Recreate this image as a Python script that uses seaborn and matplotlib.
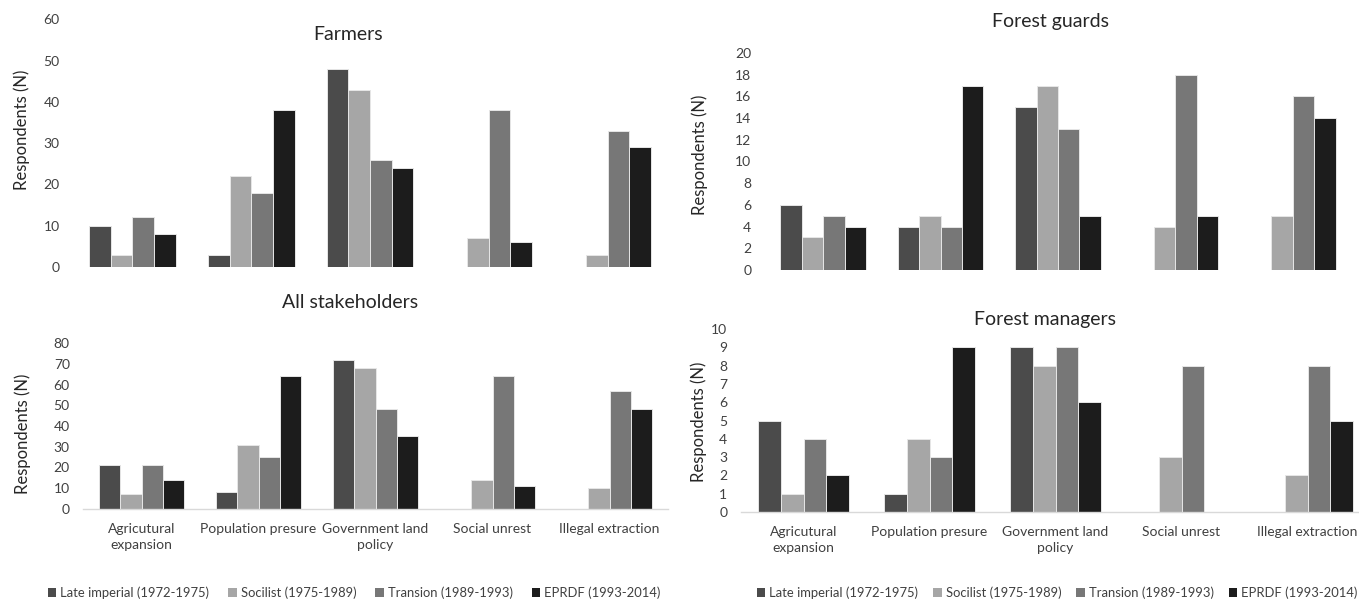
import pandas as pd
import seaborn as sns
import matplotlib.pyplot as plt
from matplotlib.patches import Patch

# categories and periods
causes = ['Agricutural\nexpansion', 'Population presure', 'Government land\npolicy',
          'Social unrest', 'Illegal extraction']
periods = ['Late imperial (1972-1975)', 'Socilist (1975-1989)',
           'Transion (1989-1993)', 'EPRDF (1993-2014)']
colors = ['#4b4b4b', '#a6a6a6', '#777777', '#1c1c1c']

# Farmers
farmers_late = [10, 3, 48, 0, 0]
farmers_soc = [3, 22, 43, 7, 3]
farmers_trans = [12, 18, 26, 38, 33]
farmers_eprdf = [8, 38, 24, 6, 29]

# Forest guards
guards_late = [6, 4, 15, 0, 0]
guards_soc = [3, 5, 17, 4, 5]
guards_trans = [5, 4, 13, 18, 16]
guards_eprdf = [4, 17, 5, 5, 14]

# All stakeholders
all_late = [21, 8, 72, 0, 0]
all_soc = [7, 31, 68, 14, 10]
all_trans = [21, 25, 48, 64, 57]
all_eprdf = [14, 64, 35, 11, 48]

# Forest managers
managers_late = [5, 1, 9, 0, 0]
managers_soc = [1, 4, 8, 3, 2]
managers_trans = [4, 3, 9, 8, 8]
managers_eprdf = [2, 9, 6, 0, 5]

sns.set_style('white')
plt.rcParams['font.family'] = ['Lato', 'DejaVu Sans']

W, H = 1359, 600
fig = plt.figure(figsize=(W / 100, H / 100), dpi=100)


def to_df(series):
    rows = []
    for period, vals in zip(periods, series):
        for cause, v in zip(causes, vals):
            rows.append({'cause': cause, 'period': period, 'n': v})
    return pd.DataFrame(rows)


def rect(x0, x1, ytop, ybot):
    return [x0 / W, (H - ybot) / H, (x1 - x0) / W, (ybot - ytop) / H]


def panel(box, series, ymax, ystep, title, title_xy, ylab_xy, show_x):
    ax = fig.add_axes(rect(*box))
    df = to_df(series)
    sns.barplot(data=df, x='cause', y='n', hue='period', order=causes,
                hue_order=periods, palette=colors, width=0.73,
                edgecolor='#e6e6e6', linewidth=0.7, legend=False, ax=ax)
    ax.set_xlim(-0.5, len(causes) - 0.5)
    ax.set_ylim(0, ymax)
    ax.set_yticks(range(0, ymax + 1, ystep))
    ax.set_xlabel('')
    ax.set_ylabel('')
    ax.tick_params(axis='y', length=0, pad=9.5, labelsize=10, labelcolor='#404040')
    ax.tick_params(axis='x', length=0, pad=10, labelsize=10, labelcolor='#404040')
    for s in ['top', 'right', 'left']:
        ax.spines[s].set_visible(False)
    if show_x:
        ax.spines['bottom'].set_color('#d9d9d9')
        ax.spines['bottom'].set_linewidth(1)
        for lab in ax.get_xticklabels():
            lab.set_linespacing(1.45)
    else:
        ax.spines['bottom'].set_visible(False)
        ax.set_xticklabels([])
    fig.text(title_xy[0] / W, 1 - title_xy[1] / H, title, fontsize=14,
             color='#262626', ha='center', va='center')
    fig.text(ylab_xy[0] / W, 1 - ylab_xy[1] / H, 'Respondents (N)', fontsize=12,
             color='#262626', ha='center', va='center', rotation=90)
    return ax


panel((73, 667, 19.5, 267), [farmers_late, farmers_soc, farmers_trans, farmers_eprdf],
      60, 10, 'Farmers', (348, 35), (22, 130), False)
panel((764.6, 1351.4, 53, 270), [guards_late, guards_soc, guards_trans, guards_eprdf],
      20, 2, 'Forest guards', (1050, 22), (700, 155), False)
panel((83, 668, 343, 509), [all_late, all_soc, all_trans, all_eprdf],
      80, 10, 'All stakeholders', (350, 303), (23, 434), True)
panel((740.5, 1370.5, 329, 512), [managers_late, managers_soc, managers_trans, managers_eprdf],
      10, 1, 'Forest managers', (1045, 320), (699, 422), True)

handles = [Patch(facecolor=c, edgecolor='none') for c in colors]
for x0, gap in [(48, 1.45), (757, 1.15)]:
    fig.legend(handles, periods, loc='center left', bbox_to_anchor=(x0 / W, 1 - 593 / H),
               ncol=4, frameon=False, fontsize=9.4, handlelength=0.65, handleheight=0.7,
               handletextpad=0.3, columnspacing=gap, borderpad=0, borderaxespad=0,
               labelcolor='#404040')

fig.savefig('out.png', dpi=100)
